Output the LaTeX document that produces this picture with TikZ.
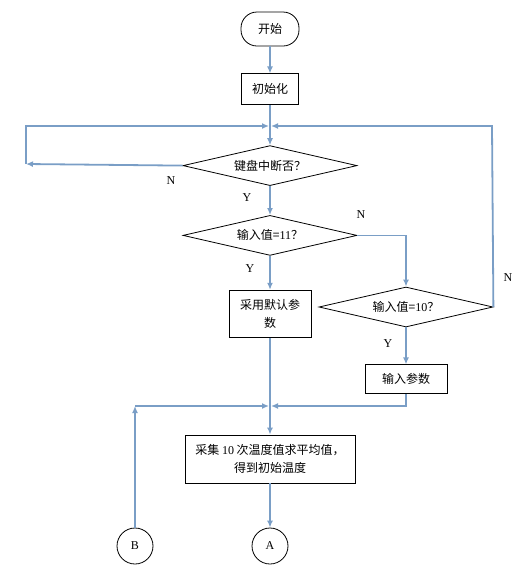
\documentclass[tikz,border=0pt]{standalone}
\usepackage{fontspec}
\setmainfont{Liberation Serif}
\newfontfamily\cjk{Noto Sans CJK SC}
\usetikzlibrary{positioning, arrows.meta, shapes.geometric}
\definecolor{flowblue}{RGB}{122,158,198}

\begin{document}
\begin{tikzpicture}[
    x=1pt, y=-1pt,
    font=\cjk\fontsize{12}{18}\selectfont,
    term_box/.style={draw, thick, rounded corners=16pt, minimum width=58pt, minimum height=34pt, inner sep=0pt},
    proc_box/.style={draw, thick, align=center, inner sep=0pt},
    decision/.style={draw, thick, diamond, aspect=4.4, inner sep=0pt, minimum width=174pt, minimum height=40pt},
    conn/.style={draw, thick, circle, minimum size=36pt, inner sep=0pt, font=\rmfamily\fontsize{12}{14}\selectfont},
    lbl/.style={font=\rmfamily\fontsize{12}{14}\selectfont},
    arrow/.style={-{Latex[length=7pt,width=6pt]}, line width=1.8pt, flowblue},
    line/.style={line width=1.8pt, flowblue}
]
\useasboundingbox (0,0) rectangle (523,571);

% Main column
\node[term_box] (start) at (270,29) {开始};
\node[proc_box, minimum width=57pt, minimum height=31pt, below=27pt of start] (init) {初始化};
\node[decision, below=40pt of init] (key) {键盘中断否？};
\node[decision, below=29pt of key] (in11) {输入值={\rmfamily 11}？};
\node[proc_box, minimum width=82pt, minimum height=47pt, below=34pt of in11] (dflt) {采用默认参\\数};

% Right branch
\node[decision] (in10) at (406,307) {输入值={\rmfamily 10}？};
\node[proc_box, minimum width=82pt, minimum height=29pt, below=37pt of in10] (param) {输入参数};

% Lower part
\node[proc_box, minimum width=170pt, minimum height=48pt] (collect) at (270,459) {采集 {\rmfamily 10} 次温度值求平均值，\\得到初始温度};
\node[conn] (A) at (270,546) {A};
\node[conn] (B) at (135,546) {B};

% Junction points
\coordinate (jtop) at (270,126);
\coordinate (jbot) at (270,406);
\coordinate (lcorner) at (26,164);
\coordinate (ltop) at (26,126);
\coordinate (rtop) at (492,126);
\coordinate (bcorner) at (135,406);

% Connections
\draw[arrow] (start) -- (init);
\draw[arrow] (init) -- (key);
\draw[arrow] (key.west) -- (lcorner);
\draw[arrow, shorten >=1pt] (lcorner) -- (ltop) -- (jtop);
\draw[arrow, shorten >=1pt] (in10.east) -- (rtop) -- (jtop);
\draw[arrow] (key) -- (in11);
\draw[arrow] (in11) -- (dflt);
\draw[arrow] (in11.east) -| (in10.north);
\draw[arrow] (in10) -- (param);
\draw[arrow] (dflt) -- (collect);
\draw[arrow, shorten >=1pt] (param.south) |- (jbot);
\draw[arrow] (B) -- (bcorner);
\draw[arrow, shorten >=1pt] (bcorner) -- (jbot);
\draw[arrow] (collect) -- (A);

% Branch labels
\node[lbl] (nkey) at (171,181) {N};
\node[lbl] (ykey) at (247,198) {Y};
\node[lbl] (n11) at (361,215) {N};
\node[lbl] (y11) at (250,269) {Y};
\node[lbl] (n10) at (508,278) {N};
\node[lbl] (y10) at (388,344) {Y};

\end{tikzpicture}
\end{document}
